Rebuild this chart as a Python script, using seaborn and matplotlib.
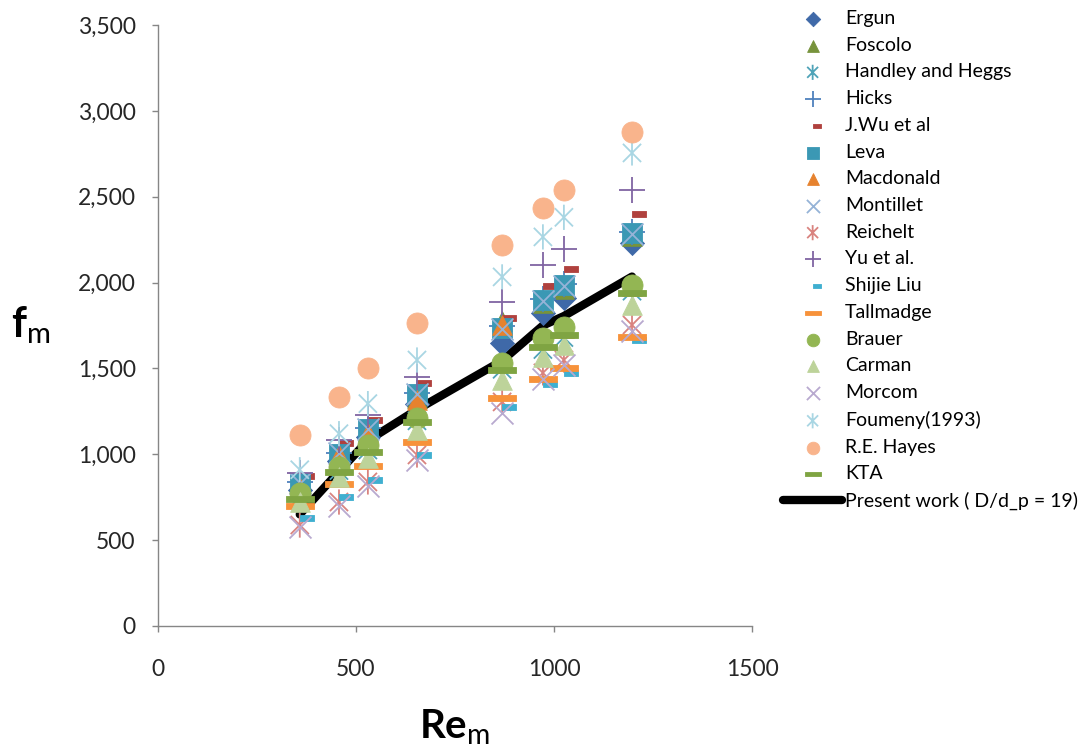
import numpy as np
import pandas as pd
import matplotlib
matplotlib.use("Agg")
import matplotlib.pyplot as plt
from matplotlib.path import Path
from matplotlib.markers import MarkerStyle
from matplotlib.ticker import FuncFormatter
import seaborn as sns

# Modified Reynolds numbers at which each correlation is evaluated
re_m = [358, 457, 530, 654, 869, 972, 1025, 1197]

# Friction factor predicted by each correlation
ergun = [790, 960, 1100, 1290, 1650, 1820, 1910, 2230]
foscolo = [815, 990, 1135, 1330, 1775, 1880, 1965, 2270]
handley_heggs = [750, 905, 1025, 1195, 1495, 1610, 1680, 1950]
hicks = [840, 1010, 1155, 1355, 1745, 1905, 1990, 2295]
jwu = [873, 1066, 1200, 1415, 1794, 1980, 2079, 2400]
leva = [833, 1000, 1150, 1350, 1736, 1899, 1986, 2289]
macdonald = [804, 996, 1124, 1316, 1753, 1670, 1735, 1980]
montillet = [835, 1005, 1150, 1350, 1730, 1895, 1980, 2285]
reichelt = [588, 722, 839, 996, 1305, 1474, 1549, 1753]
yu = [890, 1083, 1229, 1450, 1887, 2100, 2195, 2540]
shijie_liu = [629, 751, 850, 996, 1276, 1410, 1474, 1665]
tallmadge = [700, 827, 932, 1072, 1328, 1439, 1503, 1683]
brauer = [775, 926, 1054, 1211, 1532, 1677, 1741, 1986]
carman = [722, 868, 978, 1141, 1433, 1567, 1637, 1870]
morcom = [575, 700, 815, 967, 1240, 1440, 1520, 1720]
foumeny = [910, 1120, 1295, 1549, 2033, 2266, 2380, 2755]
hayes = [1112, 1334, 1503, 1765, 2219, 2435, 2540, 2877]
kta = [740, 897, 1014, 1188, 1491, 1625, 1695, 1940]
present_work = [650, 900, 1080, 1260, 1545, 1750, 1805, 2035]

y_ticks = [0, 500, 1000, 1500, 2000, 2500, 3000, 3500]
x_ticks = [0, 500, 1000, 1500]

sns.set_theme(style="white")
plt.rcParams["font.family"] = ["Lato", "DejaVu Sans"]
plt.rcParams["mathtext.fontset"] = "custom"
plt.rcParams["mathtext.rm"] = "Lato"
plt.rcParams["mathtext.bf"] = "Lato:bold"
plt.rcParams["mathtext.it"] = "Lato:italic"


def asterisk():
    d = 0.72
    verts = [(0, -1), (0, 1), (-d, -d), (d, d), (-d, d), (d, -d)]
    codes = [Path.MOVETO, Path.LINETO] * 3
    return MarkerStyle(Path(verts, codes))


def dash(x0, x1, h):
    verts = [(x0, -h), (x1, -h), (x1, h), (x0, h), (x0, -h)]
    codes = [Path.MOVETO, Path.LINETO, Path.LINETO, Path.LINETO, Path.CLOSEPOLY]
    return MarkerStyle(Path(verts, codes))


short_dash = dash(0.0, 1.0, 0.22)
wide_dash = dash(-1.0, 1.0, 0.24)

# (label, values, marker, colour, size, kind)
series = [
    ("Ergun", ergun, "D", "#3F69A8", 150, "fill"),
    ("Foscolo", foscolo, "^", "#77933C", 200, "fill"),
    ("Handley and Heggs", handley_heggs, asterisk(), "#4FA3B8", 330, "open"),
    ("Hicks", hicks, "+", "#4F81BD", 330, "line"),
    ("J.Wu et al", jwu, short_dash, "#B0413E", 400, "fill"),
    ("Leva", leva, "s", "#3B98B4", 200, "fill"),
    ("Macdonald", macdonald, "^", "#E6822E", 200, "fill"),
    ("Montillet", montillet, "x", "#95B3D7", 250, "line"),
    ("Reichelt", reichelt, asterisk(), "#D9837F", 330, "open"),
    ("Yu et al.", yu, "+", "#8064A2", 330, "line"),
    ("Shijie Liu", shijie_liu, short_dash, "#3FAFD0", 400, "fill"),
    ("Tallmadge", tallmadge, wide_dash, "#F7923A", 400, "fill"),
    ("Brauer", brauer, "o", "#93B653", 230, "fill"),
    ("Carman", carman, "^", "#BDD39A", 200, "fill"),
    ("Morcom", morcom, "x", "#B8A9CF", 250, "line"),
    ("Foumeny(1993)", foumeny, asterisk(), "#A9D6E3", 330, "open"),
    ("R.E. Hayes", hayes, "o", "#F9B48C", 230, "fill"),
    ("KTA", kta, wide_dash, "#7FA442", 400, "fill"),
]

fig = plt.figure(figsize=(10.85, 7.48), dpi=100)
ax = fig.add_axes([158 / 1085, 1 - 626 / 748, (752 - 158) / 1085, (626 - 25) / 748])

sns.lineplot(x=re_m, y=present_work, color="black", linewidth=6,
             label="Present work ( D/d_p = 19)", ax=ax, zorder=2,
             solid_capstyle="round")

for label, values, marker, colour, size, kind in series:
    kws = dict(x=re_m, y=values, marker=marker, s=size, label=label, ax=ax, zorder=3)
    if kind == "fill":
        sns.scatterplot(color=colour, edgecolor=colour, linewidth=0.6, **kws)
    elif kind == "open":
        sns.scatterplot(color=colour, facecolor="none", edgecolor=colour,
                        linewidth=1.3, **kws)
    else:
        sns.scatterplot(color=colour, linewidth=1.3, **kws)

if ax.get_legend() is not None:
    ax.get_legend().remove()

ax.set_xlim(0, 1500)
ax.set_ylim(0, 3500)
ax.set_xticks(x_ticks)
ax.set_yticks(y_ticks)
ax.yaxis.set_major_formatter(FuncFormatter(lambda v, p: f"{int(v):,}"))
ax.xaxis.set_major_formatter(FuncFormatter(lambda v, p: f"{int(v)}"))

for side in ("top", "right"):
    ax.spines[side].set_visible(False)
for side in ("left", "bottom"):
    ax.spines[side].set_color("#868686")
    ax.spines[side].set_linewidth(1.0)

ax.tick_params(axis="y", which="major", direction="out", length=4, width=1,
               color="#868686", labelsize=16.5, pad=12, left=True, labelcolor="#262626")
ax.tick_params(axis="x", which="major", direction="out", length=4, width=1,
               color="#868686", labelsize=16.5, pad=20, bottom=True, labelcolor="#262626")

ax.set_xlabel(r"$\mathbf{Re}_{\mathrm{m}}$", fontsize=29, color="black",
              va="center", ha="center")
ax.xaxis.set_label_coords(0.5, -0.168)
ax.set_ylabel(r"$\mathbf{f}_{\mathrm{m}}$", fontsize=30, rotation=0,
              color="black", va="center", ha="center")
ax.yaxis.set_label_coords(-0.214, 0.5)

handles, labels = ax.get_legend_handles_labels()
handles = handles[1:] + handles[:1]
labels = labels[1:] + labels[:1]
leg = fig.legend(handles, labels, loc="upper left",
                 bbox_to_anchor=(783 / 1085, 1 - 10 / 748),
                 frameon=False, fontsize=14, markerscale=0.6,
                 handlelength=3.05, handletextpad=0.15, labelspacing=0.5,
                 borderpad=0, borderaxespad=0)
for text in leg.get_texts():
    text.set_color("black")

fig.savefig("out.png", dpi=100)
